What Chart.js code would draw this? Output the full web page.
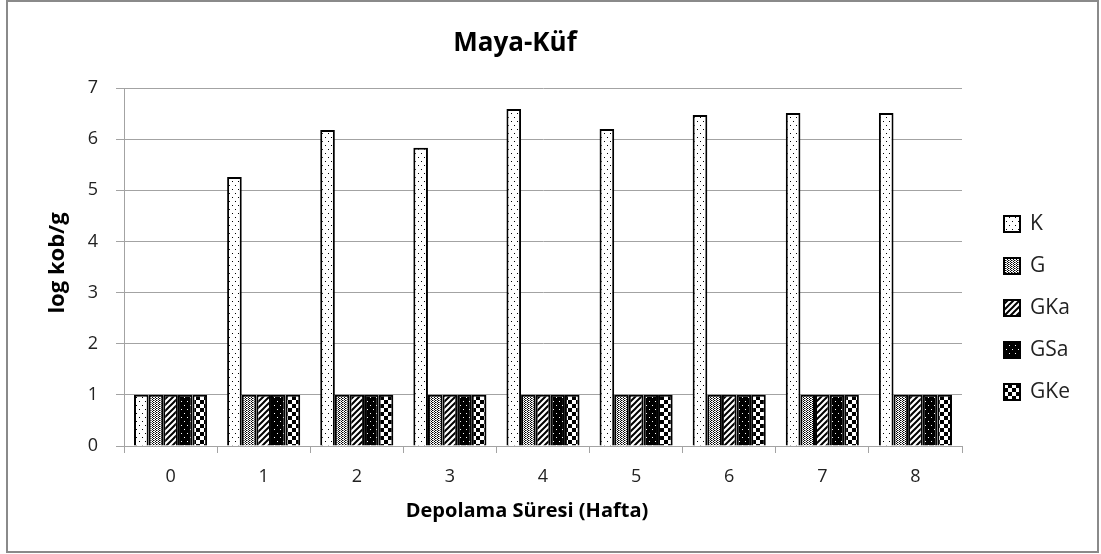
<!DOCTYPE html>
<html>
<head>
<meta charset="utf-8">
<script src="https://cdn.jsdelivr.net/npm/chart.js@4"></script>
<style>
  html, body { margin: 0; padding: 0; background: #fff; }
  canvas { display: block; }
</style>
</head>
<body>
<canvas id="chart" width="1101" height="554"></canvas>
<script>
const chartTitle = 'Maya-Küf';
const xTitle = 'Depolama Süresi (Hafta)';
const yTitle = 'log kob/g';
const weeks = ['0', '1', '2', '3', '4', '5', '6', '7', '8'];
const seriesNames = ['K', 'G', 'GKa', 'GSa', 'GKe'];
const kValues = [1.0, 5.26, 6.18, 5.83, 6.59, 6.2, 6.47, 6.51, 6.51];
const gValues = [1, 1, 1, 1, 1, 1, 1, 1, 1];
const gkaValues = [1, 1, 1, 1, 1, 1, 1, 1, 1];
const gsaValues = [1, 1, 1, 1, 1, 1, 1, 1, 1];
const gkeValues = [1, 1, 1, 1, 1, 1, 1, 1, 1];
const yTicks = [0, 1, 2, 3, 4, 5, 6, 7];

const FONT = "'Open Sans', 'DejaVu Sans', sans-serif";
const GRID = '#a3a3a3';

// Excel-like black & white fill patterns
function makePattern(kind) {
    const c = document.createElement('canvas');
    const ctx = c.getContext('2d');
    if (kind === 'dots') {
        c.width = 6; c.height = 8;
        ctx.fillStyle = '#fff'; ctx.fillRect(0, 0, 6, 8);
        ctx.fillStyle = '#000';
        ctx.fillRect(1, 1, 1, 1);
        ctx.fillRect(4, 5, 1, 1);
    } else if (kind === 'fine') {
        c.width = 3; c.height = 2;
        ctx.fillStyle = '#fff'; ctx.fillRect(0, 0, 3, 2);
        ctx.fillStyle = '#000';
        ctx.fillRect(0, 0, 1, 1);
        ctx.fillRect(2, 1, 1, 1);
        ctx.fillStyle = '#888';
        ctx.fillRect(1, 0, 1, 1);
    } else if (kind === 'diag') {
        c.width = 6; c.height = 6;
        ctx.fillStyle = '#fff'; ctx.fillRect(0, 0, 6, 6);
        ctx.strokeStyle = '#000';
        ctx.lineWidth = 2;
        ctx.beginPath();
        ctx.moveTo(-1, 7); ctx.lineTo(7, -1);
        ctx.moveTo(-4, 4); ctx.lineTo(4, -4);
        ctx.moveTo(2, 10); ctx.lineTo(10, 2);
        ctx.stroke();
    } else if (kind === 'darkdots') {
        c.width = 6; c.height = 8;
        ctx.fillStyle = '#000'; ctx.fillRect(0, 0, 6, 8);
        ctx.fillStyle = '#fff';
        ctx.fillRect(1, 1, 1, 1);
        ctx.fillRect(4, 5, 1, 1);
    } else if (kind === 'checker') {
        c.width = 8; c.height = 8;
        ctx.fillStyle = '#fff'; ctx.fillRect(0, 0, 8, 8);
        ctx.fillStyle = '#000';
        ctx.fillRect(0, 0, 4, 4);
        ctx.fillRect(4, 4, 4, 4);
    }
    return ctx.createPattern(c, 'repeat');
}

const fills = [
    makePattern('dots'),
    makePattern('fine'),
    makePattern('diag'),
    makePattern('darkdots'),
    makePattern('checker')
];
const seriesValues = [kValues, gValues, gkaValues, gsaValues, gkeValues];

// titles + legend drawn by hand so they sit where Excel put them
const excelText = {
    id: 'excelText',
    afterDraw(chart) {
        const ctx = chart.ctx;
        ctx.save();
        ctx.fillStyle = '#000';
        ctx.textAlign = 'center';
        ctx.textBaseline = 'middle';
        ctx.font = 'bold 26px ' + FONT;
        ctx.fillText(chartTitle, 515, 44);

        ctx.font = 'bold 20px ' + FONT;
        ctx.fillText(xTitle, 527, 511);

        ctx.save();
        ctx.translate(58, 263);
        ctx.rotate(-Math.PI / 2);
        ctx.font = 'bold 22px ' + FONT;
        ctx.fillText(yTitle, 0, 0);
        ctx.restore();

        chart.data.datasets.forEach((ds, i) => {
            const cy = 224 + i * 42;
            ctx.fillStyle = ds.backgroundColor;
            ctx.fillRect(1004, cy - 8, 16, 16);
            ctx.strokeStyle = '#000';
            ctx.lineWidth = 2;
            ctx.strokeRect(1004, cy - 8, 16, 16);
            ctx.fillStyle = '#222';
            ctx.font = '21px ' + FONT;
            ctx.textBaseline = 'middle';
            ctx.textAlign = 'left';
            ctx.fillText(ds.label, 1030, cy);
        });
        ctx.restore();
    }
};

const outerFrame = {
    id: 'outerFrame',
    afterDraw(chart) {
        const ctx = chart.ctx;
        ctx.save();
        ctx.strokeStyle = '#8a8a8a';
        ctx.lineWidth = 2;
        ctx.strokeRect(7, 1, 1091, 551);
        ctx.restore();
    }
};

new Chart(document.getElementById('chart'), {
    type: 'bar',
    data: {
        labels: weeks,
        datasets: seriesNames.map((name, i) => ({
            label: name,
            data: seriesValues[i],
            backgroundColor: fills[i],
            borderColor: '#000',
            borderWidth: 2,
            categoryPercentage: 0.785,
            barPercentage: 1.0
        }))
    },
    options: {
        responsive: false,
        animation: false,
        layout: { padding: { left: 0, right: 139, top: 88, bottom: 0 } },
        plugins: {
            legend: { display: false },
            tooltip: { enabled: false },
            title: { display: false }
        },
        scales: {
            x: {
                grid: {
                    offset: true,
                    drawOnChartArea: false,
                    drawTicks: true,
                    tickLength: 7,
                    color: GRID
                },
                border: { color: GRID, width: 1 },
                ticks: {
                    color: '#222',
                    font: { family: FONT, size: 18 },
                    padding: 13
                },
                afterFit: (scale) => { scale.height = 108; }
            },
            y: {
                min: yTicks[0],
                max: yTicks[yTicks.length - 1],
                grid: { color: GRID, tickLength: 8 },
                border: { color: GRID, width: 1 },
                ticks: {
                    stepSize: 1,
                    color: '#222',
                    font: { family: FONT, size: 18 },
                    padding: 18
                },
                afterFit: (scale) => { scale.width = 124; }
            }
        }
    },
    plugins: [excelText, outerFrame]
});
</script>
</body>
</html>
